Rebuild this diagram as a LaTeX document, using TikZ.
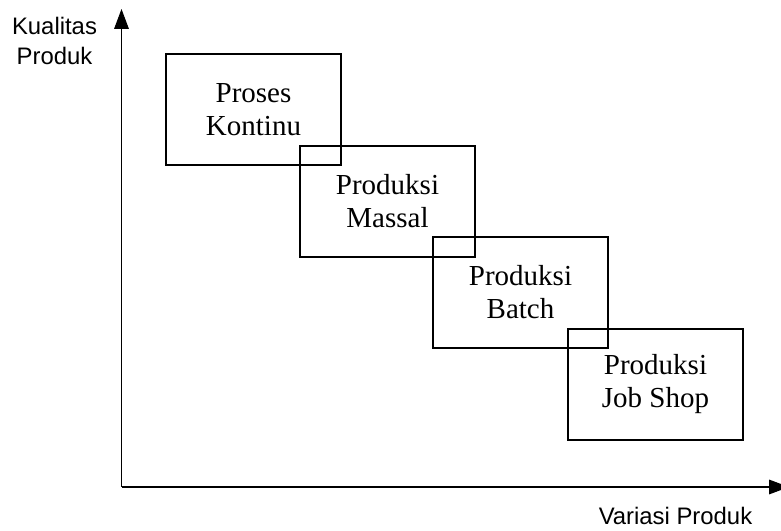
\documentclass[tikz,border=0pt]{standalone}
\usepackage{fontspec}
\setmainfont{Liberation Serif}
\setsansfont{Liberation Sans}
\usetikzlibrary{arrows.meta}
\begin{document}
\begin{tikzpicture}[x=0.75pt,y=-0.75pt,
  stage/.style={draw,line width=1.4pt,rectangle,minimum width=131.25pt,minimum height=83.25pt,
    inner sep=0pt,align=center,font=\fontsize{21.75}{24.75}\selectfont},
  axis/.style={line width=0.8pt,-{Triangle[length=15pt,width=11pt]}},
  axislabel/.style={inner sep=0pt,align=center,font=\sffamily\fontsize{17.9}{22.5}\selectfont}]
\useasboundingbox (0,0) rectangle (781,531);
% axes
\coordinate (O) at (121.5,487);
\coordinate (ytip) at (121.5,9);
\coordinate (xtip) at (789,487);
\draw[axis] (O) -- (ytip);
\draw[axis] (O) -- (xtip);
\node[axislabel] (ylab) at (54.5,41) {Kualitas\\Produk};
\node[axislabel,anchor=base] (xlab) at (675.5,524) {Variasi Produk};
% stages
\node[stage] (s1) at (253.5,109.5) {Proses\\Kontinu};
\node[stage] (s2) at (387.5,201.5) {Produksi\\Massal};
\node[stage] (s3) at (520.5,292.5) {Produksi\\Batch};
\node[stage] (s4) at (655.5,384.5) {Produksi\\Job Shop};
\end{tikzpicture}
\end{document}
